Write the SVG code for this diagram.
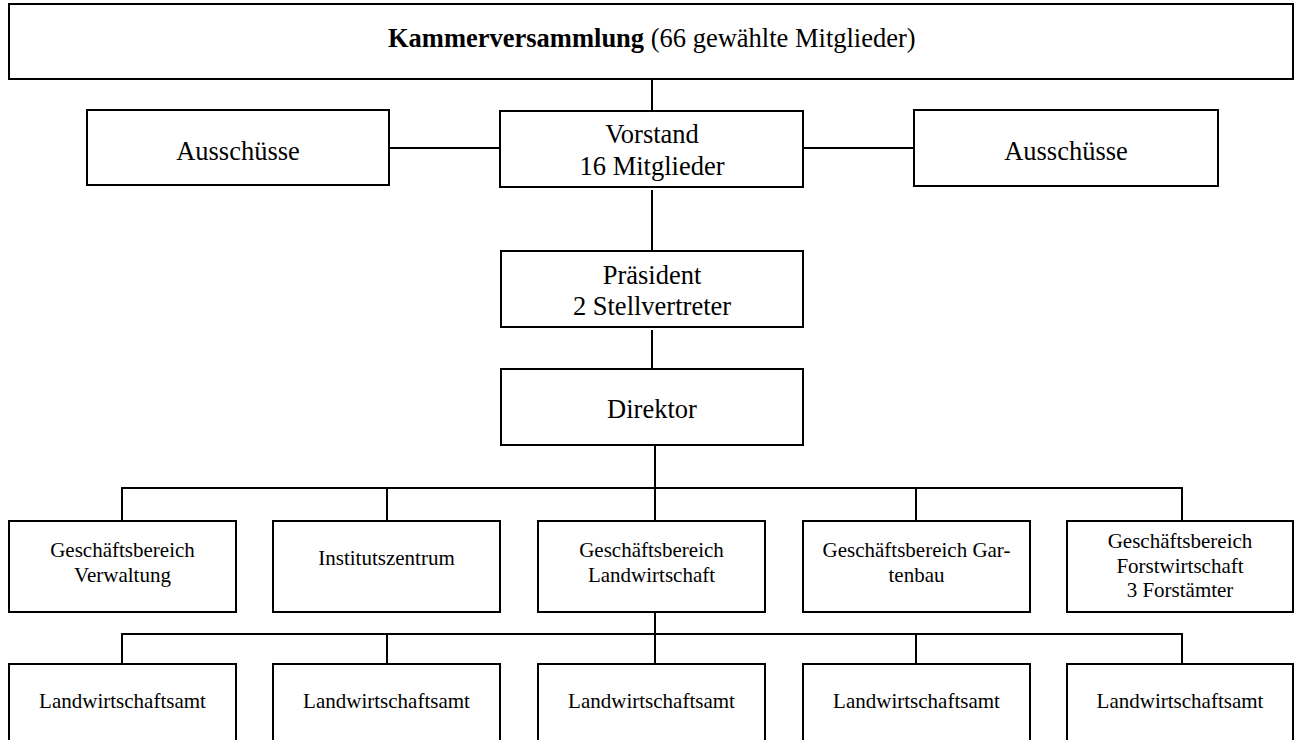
<svg xmlns="http://www.w3.org/2000/svg" width="1295" height="740" viewBox="0 0 1295 740">
  <style>
    .box { fill: #ffffff; stroke: #000000; stroke-width: 2; }
    .ln { fill: none; stroke: #000000; stroke-width: 2; }
    text { font-family: "Liberation Serif", "Times New Roman", serif; fill: #000000; text-anchor: middle; }
    .big { font-size: 26.5px; }
    .small { font-size: 21px; }
  </style>
  <rect width="1295" height="740" fill="#ffffff"/>

  <!-- connectors -->
  <g id="connectors">
    <line class="ln" x1="652" y1="79" x2="652" y2="111"/>
    <line class="ln" x1="389" y1="148" x2="500" y2="148"/>
    <line class="ln" x1="803" y1="148" x2="914" y2="148"/>
    <line class="ln" x1="652" y1="190" x2="652" y2="251"/>
    <line class="ln" x1="652" y1="330" x2="652" y2="369"/>
    <line class="ln" x1="655" y1="445" x2="655" y2="521"/>
    <polyline class="ln" points="122,521 122,488 1182,488 1182,521"/>
    <line class="ln" x1="387" y1="488" x2="387" y2="521"/>
    <line class="ln" x1="916" y1="488" x2="916" y2="521"/>
    <line class="ln" x1="655" y1="612" x2="655" y2="664"/>
    <polyline class="ln" points="122,664 122,634 1182,634 1182,664"/>
    <line class="ln" x1="387" y1="634" x2="387" y2="664"/>
    <line class="ln" x1="916" y1="634" x2="916" y2="664"/>
  </g>

  <!-- top level -->
  <g id="kammerversammlung">
    <rect class="box" x="9" y="4" width="1284" height="75"/>
    <text class="big" x="388" y="47" style="text-anchor:start"><tspan font-weight="bold">Kammerversammlung</tspan> (66 gewählte Mitglieder)</text>
  </g>

  <g id="ausschuesse-links">
    <rect class="box" x="87" y="110" width="302" height="75"/>
    <text class="big" x="238" y="160">Ausschüsse</text>
  </g>

  <g id="vorstand">
    <rect class="box" x="500" y="111" width="303" height="76"/>
    <text class="big" x="652" y="143">Vorstand</text>
    <text class="big" x="652" y="175">16 Mitglieder</text>
  </g>

  <g id="ausschuesse-rechts">
    <rect class="box" x="914" y="110" width="304" height="76"/>
    <text class="big" x="1066" y="160">Ausschüsse</text>
  </g>

  <g id="praesident">
    <rect class="box" x="501" y="251" width="302" height="76"/>
    <text class="big" x="652" y="284">Präsident</text>
    <text class="big" x="652" y="315">2 Stellvertreter</text>
  </g>

  <g id="direktor">
    <rect class="box" x="501" y="369" width="302" height="76"/>
    <text class="big" x="652" y="418">Direktor</text>
  </g>

  <!-- divisions -->
  <g id="gb-verwaltung">
    <rect class="box" x="9" y="521" width="227" height="91"/>
    <text class="small" x="122.5" y="557">Geschäftsbereich</text>
    <text class="small" x="122.5" y="582">Verwaltung</text>
  </g>

  <g id="institutszentrum">
    <rect class="box" x="273" y="521" width="227" height="91"/>
    <text class="small" x="386.5" y="565">Institutszentrum</text>
  </g>

  <g id="gb-landwirtschaft">
    <rect class="box" x="538" y="521" width="227" height="91"/>
    <text class="small" x="651.5" y="557">Geschäftsbereich</text>
    <text class="small" x="651.5" y="582">Landwirtschaft</text>
  </g>

  <g id="gb-gartenbau">
    <rect class="box" x="803" y="521" width="227" height="91"/>
    <text class="small" x="916.5" y="557">Geschäftsbereich Gar-</text>
    <text class="small" x="916.5" y="582">tenbau</text>
  </g>

  <g id="gb-forstwirtschaft">
    <rect class="box" x="1067" y="521" width="226" height="91"/>
    <text class="small" x="1180" y="548">Geschäftsbereich</text>
    <text class="small" x="1180" y="573">Forstwirtschaft</text>
    <text class="small" x="1180" y="597">3 Forstämter</text>
  </g>

  <!-- agricultural offices -->
  <g id="lwa-1">
    <rect class="box" x="9" y="664" width="227" height="90"/>
    <text class="small" x="122.5" y="708">Landwirtschaftsamt</text>
  </g>
  <g id="lwa-2">
    <rect class="box" x="273" y="664" width="227" height="90"/>
    <text class="small" x="386.5" y="708">Landwirtschaftsamt</text>
  </g>
  <g id="lwa-3">
    <rect class="box" x="538" y="664" width="227" height="90"/>
    <text class="small" x="651.5" y="708">Landwirtschaftsamt</text>
  </g>
  <g id="lwa-4">
    <rect class="box" x="803" y="664" width="227" height="90"/>
    <text class="small" x="916.5" y="708">Landwirtschaftsamt</text>
  </g>
  <g id="lwa-5">
    <rect class="box" x="1067" y="664" width="226" height="90"/>
    <text class="small" x="1180" y="708">Landwirtschaftsamt</text>
  </g>
</svg>
